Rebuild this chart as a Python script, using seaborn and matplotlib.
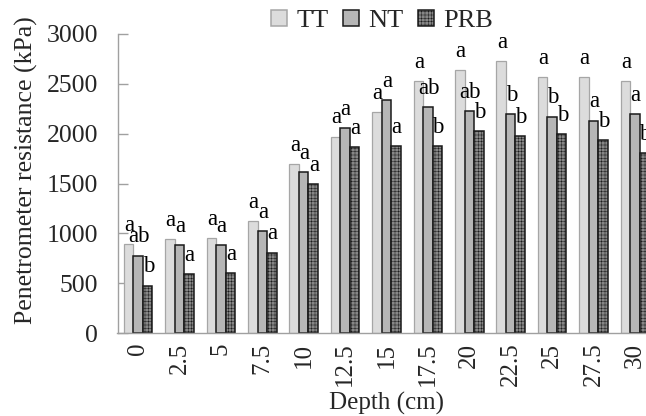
import matplotlib
matplotlib.use("Agg")
import matplotlib.pyplot as plt
from matplotlib.patches import Patch
import seaborn as sns
import pandas as pd
import numpy as np

depths = ["0", "2.5", "5", "7.5", "10", "12.5", "15", "17.5", "20", "22.5", "25", "27.5", "30"]
treatments = ["TT", "NT", "PRB"]
tt_vals = [889, 942, 956, 1124, 1695, 1970, 2215, 2531, 2634, 2729, 2571, 2571, 2531]
nt_vals = [777, 879, 879, 1023, 1617, 2054, 2339, 2266, 2225, 2198, 2171, 2131, 2198]
prb_vals = [475, 590, 604, 806, 1497, 1863, 1876, 1876, 2024, 1974, 1997, 1933, 1806]
tt_letters = ["a", "a", "a", "a", "a", "a", "a", "a", "a", "a", "a", "a", "a"]
nt_letters = ["ab", "a", "a", "a", "a", "a", "a", "ab", "ab", "b", "b", "a", "a"]
prb_letters = ["b", "a", "a", "a", "a", "a", "a", "b", "b", "b", "b", "b", "b"]
yticks = [0, 500, 1000, 1500, 2000, 2500, 3000]

sns.set_theme(style="white")
plt.rcParams["font.family"] = ["Liberation Serif", "DejaVu Serif"]
plt.rcParams["hatch.linewidth"] = 0.35

df = pd.DataFrame({
    "Depth": depths * 3,
    "Treatment": ["TT"] * 13 + ["NT"] * 13 + ["PRB"] * 13,
    "Value": tt_vals + nt_vals + prb_vals,
})

faces = {"TT": "#dcdcdc", "NT": "#b6b6b6", "PRB": "#868686"}
edges = {"TT": "#a6a6a6", "NT": "#1a1a1a", "PRB": "#1a1a1a"}
hatches = {"TT": None, "NT": None, "PRB": "+++++"}

fig = plt.figure(figsize=(6.46, 4.16), dpi=100)
ax = fig.add_axes([117.5 / 646, 83 / 416, 538 / 646, 299 / 416])
sns.barplot(data=df, x="Depth", y="Value", hue="Treatment", order=depths,
            hue_order=treatments, palette=faces, width=0.69, gap=0,
            errorbar=None, ax=ax, legend=False, saturation=1)

letters = {"TT": tt_letters, "NT": nt_letters, "PRB": prb_letters}
for cont, tr in zip(ax.containers, treatments):
    for i, bar in enumerate(cont):
        bar.set_edgecolor(edges[tr])
        bar.set_linewidth(1.1 if tr != "TT" else 0.9)
        if hatches[tr]:
            bar.set_hatch(hatches[tr])
        x = bar.get_x() + bar.get_width() / 2
        h = bar.get_height()
        ax.annotate(letters[tr][i], (x, h), xytext=(0.5, 9.5), textcoords="offset points",
                    ha="center", va="baseline", fontsize=16.5, color="black")

ax.set_xlim(-0.5, len(depths) - 0.5)
ax.set_ylim(0, 3000)
ax.set_yticks(yticks)
ax.set_yticklabels([str(v) for v in yticks], fontsize=18.5)
ax.set_xticks(range(len(depths)))
ax.set_xticklabels(depths, rotation=90, fontsize=18)
ax.set_xticks(np.arange(len(depths) + 1) - 0.5, minor=True)
ax.tick_params(axis="x", which="major", length=0, pad=7)
ax.tick_params(axis="x", which="minor", direction="in", length=6, color="#a0a0a0", width=1)
ax.tick_params(axis="y", direction="in", length=7, color="#a0a0a0", width=1, pad=14, left=True)

for s in ["top", "right"]:
    ax.spines[s].set_visible(False)
for s in ["left", "bottom"]:
    ax.spines[s].set_color("#a0a0a0")
    ax.spines[s].set_linewidth(1)

ax.set_xlabel("Depth (cm)", fontsize=18, labelpad=4)
ax.set_ylabel("Penetrometer resistance (kPa)", fontsize=18.5)
ax.yaxis.set_label_coords(-0.148, 0.545)

handles = [Patch(facecolor=faces[t], edgecolor=edges[t], hatch=hatches[t], linewidth=1.1)
           for t in treatments]
fig.legend(handles, treatments, loc="center", bbox_to_anchor=(382 / 646, 1 - 21 / 416),
           ncol=3, frameon=False, fontsize=19, handlelength=0.6, handleheight=0.6,
           handletextpad=0.35, columnspacing=0.55, borderpad=0)

fig.savefig("out.png", dpi=100)
